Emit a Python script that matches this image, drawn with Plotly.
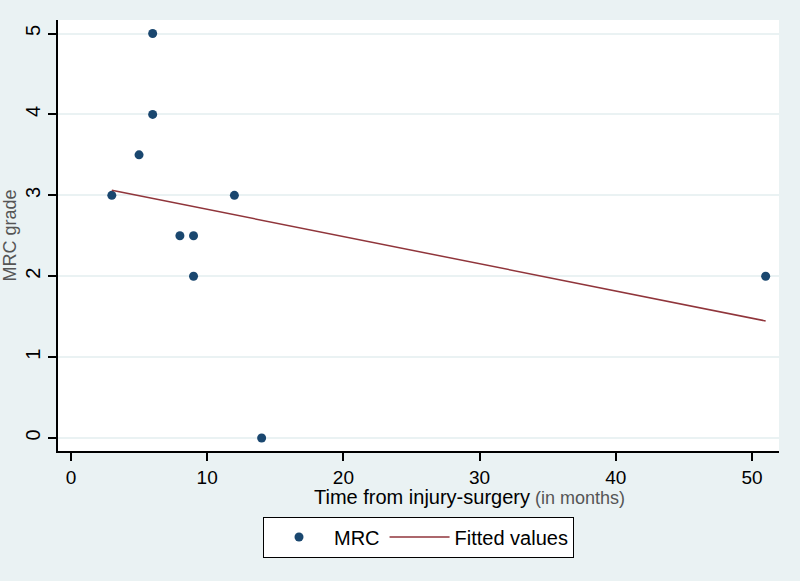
import numpy as np
import plotly.graph_objects as go

months = [3, 5, 6, 6, 8, 9, 9, 12, 14, 51]
mrc = [3, 3.5, 4, 5, 2.5, 2.5, 2, 3, 0, 2]
x_ticks = [0, 10, 20, 30, 40, 50]
y_ticks = [0, 1, 2, 3, 4, 5]

slope, intercept = np.polyfit(months, mrc, 1)
fit_x = [min(months), max(months)]
fit_y = [intercept + slope * v for v in fit_x]

fig = go.Figure()
fig.add_trace(go.Scatter(x=months, y=mrc, mode="markers", name="MRC",
                         marker=dict(color="#1A476F", size=9)))
fig.add_trace(go.Scatter(x=fit_x, y=fit_y, mode="lines", name="Fitted values",
                         line=dict(color="#90353B", width=1.5)))

bg = "#EAF2F3"
fig.update_layout(
    width=800, height=581,
    paper_bgcolor=bg, plot_bgcolor="white",
    margin=dict(l=58, r=21, t=20, b=130),
    font=dict(family="Liberation Sans, Arial, sans-serif", color="black"),
    showlegend=True,
    legend=dict(orientation="h", x=0.5, xanchor="center", y=-0.152, yanchor="top",
                bgcolor="white", bordercolor="black", borderwidth=1,
                font=dict(size=20), itemwidth=60),
    xaxis=dict(range=[-0.95, 51.98], tickvals=x_ticks, showgrid=False, zeroline=False,
               showline=True, linecolor="black", linewidth=1.5, automargin=False,
               ticks="outside", ticklen=8, tickwidth=1.5, tickcolor="black",
               tickfont=dict(size=19)),
    yaxis=dict(range=[-0.16, 5.167], tickvals=y_ticks, showgrid=True, gridcolor=bg, gridwidth=1.5,
               zeroline=False, showline=True, linecolor="black", linewidth=1.5, automargin=False,
               ticks="outside", ticklen=8, tickwidth=1.5, tickcolor="black",
               tickangle=-90, tickfont=dict(size=20),
               title=dict(text="MRC grade", font=dict(size=18, color="#555555"), standoff=8)),
    annotations=[dict(text="Time from injury-surgery<span style='font-size:18px;color:#555555'> (in months)</span>",
                      xref="paper", yref="paper", x=(312 - 58) / 721, y=(581 - 130 - 497) / 431,
                      xanchor="left", yanchor="middle", showarrow=False,
                      font=dict(size=20, color="black"))],
)
fig.write_html("out.html", config={"displayModeBar": False},
               post_script="document.body.style.margin='0px';")
